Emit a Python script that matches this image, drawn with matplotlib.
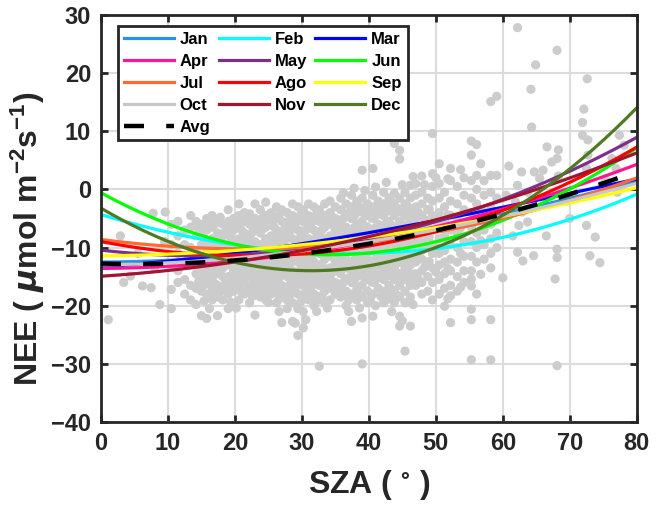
import matplotlib
matplotlib.use("Agg")
import matplotlib.pyplot as plt
import numpy as np

plt.rcParams['font.family'] = ['Liberation Sans', 'DejaVu Sans']
plt.rcParams['font.weight'] = 'bold'
plt.rcParams['mathtext.default'] = 'regular'

# ---------------- data ----------------
sza_grid = [0, 10, 20, 30, 40, 50, 60, 70, 80]

months = ['Jan', 'Feb', 'Mar', 'Apr', 'May', 'Jun',
          'Jul', 'Ago', 'Sep', 'Oct', 'Nov', 'Dec']
month_colors = ['#2E8FE6', '#00FFFF', '#0000FF', '#FF1493', '#7E2F8E', '#00FF00',
                '#FF6A33', '#FF0000', '#FFFF00', '#C8C8C8', '#A2142F', '#4F7A21']

# fitted-curve values at the SZA grid
nee_jan = [-12.5, -12.2, -11.4, -10.2, -8.6, -6.6, -4.2, -1.5, 1.4]
nee_feb = [-4.6, -6.9, -9.4, -11.0, -11.3, -10.2, -8.0, -5.0, -1.0]
nee_mar = [-13.3, -12.4, -11.1, -9.2, -7.4, -5.4, -3.1, -0.7, 1.8]
nee_apr = [-13.6, -13.2, -12.4, -10.9, -8.9, -6.4, -3.4, 0.2, 4.3]
nee_may = [-10.4, -11.4, -11.3, -10.3, -8.4, -5.5, -1.7, 3.0, 9.0]
nee_jun = [-0.9, -5.4, -9.3, -11.3, -11.2, -9.4, -4.8, 0.3, 6.9]
nee_jul = [-8.6, -9.8, -10.2, -10.0, -9.0, -7.3, -5.0, -1.9, 2.0]
nee_ago = [-9.0, -10.7, -11.3, -11.1, -9.8, -7.4, -3.5, 1.3, 7.2]
nee_sep = [-11.4, -11.2, -10.5, -9.5, -8.2, -6.6, -4.6, -2.4, 0.3]
nee_oct = [-13.0, -12.6, -11.8, -10.6, -9.0, -7.0, -4.6, -1.9, 1.0]
nee_nov = [-14.9, -14.0, -12.5, -10.5, -8.1, -5.2, -1.9, 1.9, 6.3]
nee_dec = [-3.5, -8.6, -12.2, -14.1, -13.5, -10.3, -4.4, 4.3, 13.6]
nee_avg = [-12.8, -12.7, -12.2, -11.0, -9.4, -7.3, -4.1, -0.7, 3.0]

month_series = [nee_jan, nee_feb, nee_mar, nee_apr, nee_may, nee_jun,
                nee_jul, nee_ago, nee_sep, nee_oct, nee_nov, nee_dec]

# observations: dense cloud given as (SZA, [NEE values]) columns
obs_columns = [
    (10.5, [-6, -9.5, -13, -17.2, -20.5]),
    (11.5, [-5.5, -8, -11, -14, -16]),
    (12.5, [-7, -9.5, -12.5, -15.5, -18]),
    (13.4, [-4.5, -6.5, -10, -13, -16.5, -19]),
    (14.2, [-5.5, -8, -10.5, -12, -14.5, -17, -19.8]),
    (15.0, [-6, -7.5, -9.5, -11.5, -13.5, -15, -17.5, -21.7]),
    (15.8, [-5, -7, -9, -10.5, -12.5, -14, -16, -18, -22.2]),
    (16.6, [-4.5, -6.5, -8.5, -10, -12, -13.5, -15.5, -17, -19]),
    (17.4, [-5.5, -7.5, -9, -11, -13, -14.5, -16.5, -18.5, -21.7]),
    (18.2, [-6, -8, -10, -12, -13.5, -15, -17, -19]),
    (19.0, [-3.5, -5.5, -7.5, -9.5, -11.5, -13, -15, -16.5, -18, -20.5]),
    (19.8, [-5, -7, -9, -11, -12.5, -14, -16, -17.5]),
    (20.6, [-2.5, -4.5, -6.5, -8.5, -10, -12, -13.5, -15.5, -17, -19]),
    (21.4, [-4, -5.5, -7.5, -9.5, -11, -13, -14.5, -16, -18]),
    (22.2, [-4.2, -6, -8, -10, -11.5, -13.5, -15, -17, -19.5]),
    (23.0, [-2.5, -5, -7, -9, -10.5, -12.5, -14, -16, -17.5, -21.6]),
    (23.8, [-3.5, -5.5, -7.5, -9.5, -11, -13, -14.5, -16.5, -18.5]),
    (24.6, [-2.2, -4.5, -6.5, -8.5, -10, -12, -13.5, -15.5, -17, -19]),
    (25.4, [-4, -6, -8, -9.5, -11.5, -13, -15, -16.5, -18]),
    (26.2, [-3, -5, -7, -9, -10.5, -12.5, -14, -16, -17.5, -19.5]),
    (27.0, [-3.5, -5.5, -7.5, -9.5, -11, -13, -14.5, -16.5, -18.5, -22.9]),
    (27.8, [-4, -6, -8, -10, -11.5, -13.5, -15, -17, -19, -20.5]),
    (28.6, [-2.5, -4.5, -6.5, -8.5, -10.5, -12, -14, -15.5, -17.5, -19.5, -22.7]),
    (29.4, [-3, -5, -7, -9, -11, -12.5, -14.5, -16, -18, -20.5, -25.1]),
    (30.2, [-3.5, -5.5, -7.5, -9.5, -11.5, -13, -15, -16.5, -18.5, -21, -23.8]),
    (31.0, [-2.5, -4.5, -6.5, -8.5, -10, -12, -13.5, -15.5, -17, -19]),
    (31.8, [-3, -5, -7, -9, -11, -12.5, -14.5, -16, -18, -20]),
    (32.6, [-3.5, -5.5, -7.5, -9.5, -11, -13, -14.5, -16.5, -18.5, -30.4]),
    (33.4, [-2.5, -4.5, -6.5, -8.5, -10.5, -12, -14, -15.5, -17.5, -19.5]),
    (34.2, [-2, -4, -6, -8, -10, -11.5, -13.5, -15, -17, -19]),
    (35.0, [-3, -5, -7, -9, -10.5, -12.5, -14, -16, -18]),
    (35.8, [-1.5, -3.5, -5.5, -7.5, -9.5, -11, -13, -14.5, -16.5, -18.5]),
    (36.6, [-2.5, -4.5, -6.5, -8.5, -10, -12, -13.5, -15.5, -17.5, -20]),
    (37.4, [-1, -3, -5, -7, -9, -10.5, -12.5, -14, -16, -18, -22.7]),
    (38.2, [-2, -4, -6, -8, -9.5, -11.5, -13, -15, -17, -19]),
    (39.0, [3.3, -1.5, -3.5, -5.5, -7.5, -9, -11, -12.5, -14.5, -16.5, -18.5, -22.1, -30]),
    (39.8, [-2.5, -4.5, -6.5, -8.5, -10, -12, -13.5, -15.5, -17.5, -19.5]),
    (40.6, [3.6, -1, -3, -5, -7, -9, -10.5, -12.5, -14, -16, -18, -21.8]),
    (41.4, [-2, -4, -6, -8, -9.5, -11.5, -13, -15, -17]),
    (42.2, [-0.5, -2.5, -4.5, -6.5, -8.5, -10, -12, -13.5, -15.5, -17.5, -19.5]),
    (43.0, [-1.5, -3.5, -5.5, -7.5, -9, -11, -12.5, -14.5, -16.5, -18.5]),
    (43.8, [7.9, -0.7, -2.5, -4.5, -6.5, -8.5, -10, -12, -13.5, -15.5, -17.5, -19.5]),
    (44.6, [6.7, 5.2, -1.5, -3.5, -5.5, -7.5, -9, -11, -12.5, -14.5, -16.5, -18.5, -21.8, -23.5]),
    (45.4, [-0.5, -2.5, -4.5, -6.5, -8.5, -10, -12, -13.5, -15.5, -17.5, -19.5, -27.8]),
    (46.2, [0.7, -1.5, -3.5, -5.5, -7.5, -9.5, -11, -13, -14.5, -16.5, -18.5, -23.5]),
    (47.0, [1, -1, -3, -5, -7, -9, -11, -12.5, -14.5, -16.5]),
    (47.9, [2.3, -0.5, -2.5, -4.5, -6.5, -8.5, -10.5, -12, -14, -16, -18]),
    (48.8, [-1.5, -3.5, -6, -8, -10, -12.5, -15, -17.5]),
    (49.5, [9.6, 2.7, 0.5, -2, -4.5, -7, -9.5, -11, -13.5, -16, -19]),
    (50.5, [4.4, 1, -1.5, -4, -6.5, -8.5, -11, -13, -15.5, -18]),
    (51.3, [-0.5, -3, -5.5, -8, -10.5, -12.5, -14.5, -17, -20.1]),
    (52.2, [3.6, 1.5, -2, -4.5, -7, -9.5, -12, -14, -16.5, -18.3, -22.9]),
    (53.2, [0.5, -2.5, -5, -7.5, -10, -12.5, -15, -17.5]),
    (54.2, [2, -1, -3.5, -6, -9, -11.5, -14, -16]),
    (55.3, [8.3, 5.9, 1.5, -1.5, -4, -6.5, -9, -11.5, -14, -15.4, -16.6, -20.6, -22.4, -29.3]),
    (56.1, [7.7, 2.4, 0, -2.5, -5, -7.5, -10, -12.5, -18]),
    (57.2, [1.5, -1, -4, -7, -9.5, -12]),
    (58.2, [15.1, 2.4, -0.5, -3, -6, -8.5, -11, -13.5, -22.4, -29.3]),
    (59.1, [16, 2.4, -1.5, -4.5, -7.5, -10]),
]

# second, interleaved set of cloud columns (thinner, leaves small gaps)
obs_columns_b = [
    (14.6, [-6.8, -11.3, -15.8]),
    (15.4, [-8.4, -12.6, -16.4, -19.2]),
    (16.2, [-5.8, -9.6, -13, -14.8, -20.5]),
    (17.0, [-6, -9.6, -11.4, -16.2, -18.2]),
    (17.8, [-4.8, -8.6, -10.6, -14, -17.6]),
    (18.6, [-7.2, -10.8, -12.8, -16.2]),
    (19.4, [-6.4, -8.4, -12.2, -15.6, -17.4, -19.4]),
    (20.2, [-5.8, -9.4, -11.2, -14.8, -16.2, -20.4]),
    (21.0, [-7, -10.6, -12.4, -15.8, -17.6]),
    (21.8, [-4.8, -8.8, -12.2, -14, -17.4]),
    (22.6, [-5.4, -7.4, -11, -12.8, -16.4, -18.4]),
    (23.4, [-6.2, -10, -11.8, -15.2, -17]),
    (24.2, [-4.8, -6.8, -10.6, -12.4, -16, -17.8]),
    (25.0, [-5.2, -9, -10.8, -14.2, -16, -19.4]),
    (25.8, [-6.4, -8.4, -12, -13.8, -17.2]),
    (26.6, [-4.4, -8.2, -10, -13.4, -15.2, -18.8, -21]),
    (27.4, [-6.8, -8.8, -12.2, -14, -17.6]),
    (28.2, [-5.2, -7.2, -11, -12.8, -16.4, -18.2]),
    (29.0, [-6, -10, -11.8, -15.2, -17, -23]),
    (29.8, [-4.4, -8.2, -10.2, -13.8, -15.6, -19.4]),
    (30.6, [-7, -9, -12.6, -14.4, -17.8, -22.4]),
    (31.4, [-5.8, -9.6, -11.4, -15, -16.8]),
    (32.2, [-4.2, -8.2, -10, -13.6, -15.4, -19.2, -21]),
    (33.0, [-7, -9, -12.8, -14.6, -18.2]),
    (33.8, [-5.6, -9.4, -11.2, -14.8, -16.6, -20.4]),
    (34.6, [-4.8, -8.6, -10.6, -14.2, -16]),
    (35.4, [-6.2, -8.2, -12, -13.8, -17.2]),
    (36.2, [-0.6, -5, -7, -10.6, -12.4, -16, -17.8]),
    (37.0, [-4, -8, -9.8, -13.4, -15.2, -19, -21]),
    (37.8, [0.2, -4.6, -6.6, -10.4, -12.2, -15.8]),
    (38.6, [-3, -7, -8.8, -12.4, -14.2, -18, -20.4]),
    (39.4, [-0.2, -4.4, -6.4, -10, -11.8, -15.4]),
    (40.2, [-3.6, -7.6, -9.4, -13, -14.8, -19]),
    (41.0, [0.4, -4.6, -6.6, -10.2, -12, -15.6, -20]),
    (41.8, [-3.2, -7.2, -9, -12.6, -14.4, -18.4]),
    (42.6, [1.2, -3.8, -5.8, -9.6, -11.4, -15, -19]),
    (43.4, [-2.2, -6.2, -8, -11.6, -13.4, -17.2, -21]),
    (44.2, [-3.2, -7.2, -9, -12.6, -14.4, -18.2]),
    (45.0, [0.8, -4, -6, -9.8, -11.6, -15.2, -22.6]),
    (45.8, [-3, -7, -9, -12.6, -14.4]),
    (46.6, [2.2, -4.4, -8.4, -12, -15.6, -19.8]),
    (47.4, [-4, -8, -11.8, -15.4]),
    (48.3, [0.8, -5.2, -9.4, -13.4]),
    (49.0, [-3.4, -8.2, -12.4]),
    (50.0, [2, -5.4, -10, -14.2]),
    (51.8, [1.8, -4.4, -9.2, -13.6, -18.8]),
    (53.7, [3.4, -6.6, -11, -16.8]),
    (56.7, [4.4, -3.6, -8.8, -14.6]),
]

# sparse observations outside the dense cloud
obs_sparse_sza = [1.1, 2.9, 3.4, 4.4, 4.7, 5.5, 6.2, 7.5, 7.8, 9.6, 8.8, 8.0, 9.5,
                  62.2, 68.1, 64.9, 72.6, 64.2, 72.1, 71.9, 64.3, 71.9, 72.7, 66.6,
                  68.3, 68.1, 67.3, 66.0, 64.7, 65.5, 68.3, 77.4, 78.1, 76.3, 76.9,
                  75.3, 77.1, 74.8, 72.5, 72.7, 60.9, 62.8, 62.2, 63.7, 61.9, 62.9,
                  62.4, 63.7, 64.6, 63.0, 62.2, 60.0, 67.8, 68.1, 68.1, 73.0, 74.5,
                  72.5, 73.8, 68.1, 69.5, 70.0, 66.5, 61.5, 60.5]
obs_sparse_nee = [-22.4, -8.0, -16.0, -14.9, -12.9, -11.0, -16.6, -16.9, -4.1, -3.9, -19.8, -13.5, -9.0,
                  27.8, 23.9, 21.4, 19.0, 17.2, 13.8, 11.5, 10.7, 9.3, 8.5, 7.3,
                  6.8, 5.3, 4.7, 3.3, 3.0, 1.9, 2.3, 9.3, 7.6, 5.3, 3.6,
                  1.8, -0.5, 0.7, 3.6, 5.9, 4.0, 3.0, 0.7, -0.5, -2.2, -3.9,
                  -6.2, -5.6, -11.4, -12.3, -10.8, -15.2, -15.4, -10.3, -11.7, -11.4, -12.6,
                  -6.2, -8.2, -30.3, -2.0, -5.0, -8.0, -8.0, -1.0]

# ---------------- figure ----------------
fig = plt.figure(figsize=(6.64, 5.11), dpi=100)
ax = fig.add_axes([0.152, 0.174, 0.807, 0.797])

all_cols = obs_columns + obs_columns_b
obs_x = [c[0] for c in all_cols for _ in c[1]] + obs_sparse_sza
obs_y = [v for c in all_cols for v in c[1]] + obs_sparse_nee
ax.scatter(obs_x, obs_y, s=44, color='#CCCCCC', edgecolors='none', zorder=1)

# smooth trend curves (polynomial fit through the read values, as in the source)
xs = np.linspace(0, 80, 200)
for name, col, vals in zip(months, month_colors, month_series):
    coef = np.polyfit(sza_grid, vals, 3)
    ax.plot(xs, np.polyval(coef, xs), color=col, lw=2.3, label=name, zorder=2)
coef = np.polyfit(sza_grid, nee_avg, 3)
ax.plot(xs, np.polyval(coef, xs), color='black', lw=3.2, dashes=(4.5, 5.0),
        label='Avg', zorder=3)

ax.set_xlim(0, 80)
ax.set_ylim(-40, 30)
ax.set_xticks(range(0, 81, 10))
ax.set_yticks(range(-40, 31, 10))
ax.set_axisbelow(True)
ax.grid(True, color='#DCDCDC', lw=1.5)

for sp in ax.spines.values():
    sp.set_linewidth(2.0)
    sp.set_color('#262626')
ax.tick_params(direction='in', length=5, width=2, top=True, right=True,
               labelsize=17, colors='#262626', pad=7)
for lab in ax.get_xticklabels() + ax.get_yticklabels():
    lab.set_fontweight('bold')

ax.set_xlabel('SZA ( $^{\\circ}$ )', fontsize=23, fontweight='bold', color='#262626')
ax.xaxis.set_label_coords(0.5, -0.112)
ax.set_ylabel('NEE ( $\\mathit{\\mu}$mol m$^{-2}$s$^{-1}$)', fontsize=23,
              fontweight='bold', color='#262626')
ax.yaxis.set_label_coords(-0.1, 0.45)

handles, labels = ax.get_legend_handles_labels()
order = [0, 3, 6, 9, 12, 1, 4, 7, 10, 2, 5, 8, 11]
leg = ax.legend([handles[i] for i in order], [labels[i] for i in order],
                ncol=3, loc='upper left', bbox_to_anchor=(0.032, 0.973),
                borderaxespad=0, fontsize=12, handlelength=3.0, handletextpad=0.35,
                columnspacing=0.5, labelspacing=0.42, borderpad=0.35,
                fancybox=False, framealpha=1, edgecolor='#262626')
leg.get_frame().set_linewidth(2.0)
for t in leg.get_texts():
    t.set_fontweight('bold')

fig.savefig('out.png', dpi=100)
